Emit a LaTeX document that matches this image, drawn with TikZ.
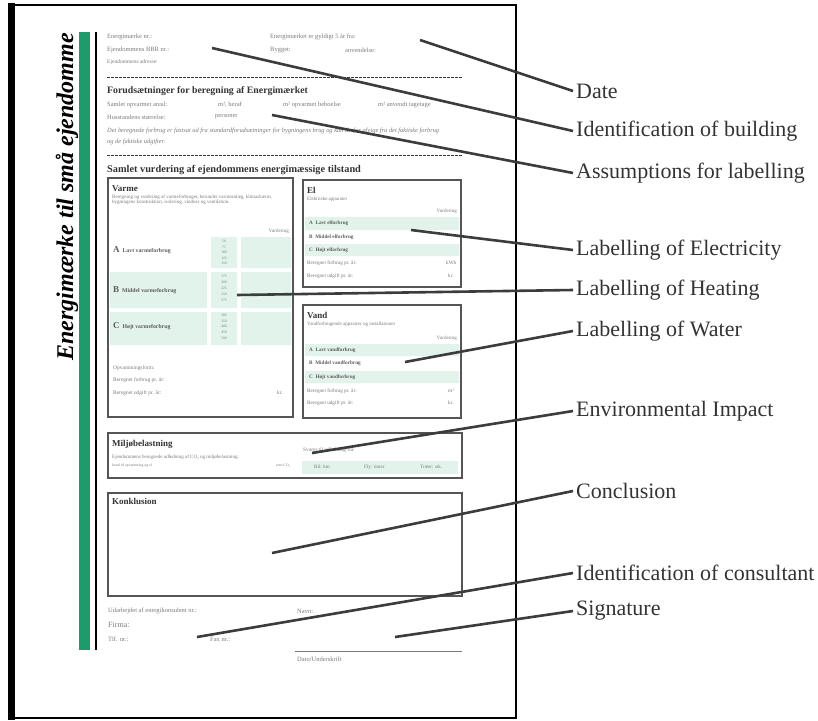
\documentclass[tikz,border=0pt]{standalone}
\usepackage{fontspec}
\setmainfont{Liberation Serif}
\usetikzlibrary{positioning}
\definecolor{emGreen}{HTML}{1E9A6B}
\definecolor{emBand}{HTML}{E2F3EC}
\definecolor{emInk}{HTML}{333333}
\definecolor{emMute}{HTML}{7A7A7A}
\definecolor{emFrame}{HTML}{555555}
\definecolor{emLead}{HTML}{3C3C3C}

\begin{document}
\begin{tikzpicture}[x=1pt, y=-1pt,
  formtxt/.style={anchor=west, inner sep=0pt, font=\fontsize{6.5}{7}\selectfont, text=emMute},
  smalltxt/.style={formtxt, font=\fontsize{5}{5.6}\selectfont},
  rowtxt/.style={formtxt, font=\fontsize{5.8}{6}\selectfont\bfseries, text=emInk!80},
  scaletxt/.style={inner sep=0pt, font=\fontsize{3.6}{4}\selectfont, text=emMute},
  headtxt/.style={anchor=west, inner sep=0pt, font=\fontsize{9}{10}\selectfont\bfseries, text=emInk},
  panel/.style={draw=emFrame, line width=1.1pt},
  band/.style={fill=emBand, draw=none},
  dashrule/.style={draw=emInk, line width=0.9pt, dash pattern=on 3pt off 1pt},
  lead/.style={draw=emLead, line width=2.6pt},
  callout/.style={anchor=west, inner sep=3pt, font=\fontsize{22}{25}\selectfont, text=emInk}
]
  \useasboundingbox (0,0) rectangle (818,720);

  % page and title strip
  \draw[line width=7pt] (11.5,3) -- (11.5,720);
  \draw[line width=2.5pt] (8,5) -- (516,5) -- (516,718) -- (8,718);
  \fill[emGreen] (79,32) rectangle (90,650);
  \draw[line width=1.5pt] (96,32) -- (96,650);
  \node[rotate=90, inner sep=0pt, font=\fontsize{24}{26}\selectfont\bfseries\itshape] (title) at (67,197) {Energimærke til små ejendomme};

  % identification
  \node[formtxt] (nr) at (107,37) {Energimærke nr.:};
  \node[formtxt] (valid) at (270,37) {Energimærket er gyldigt 5 år fra:};
  \node[formtxt] (bbr) at (107,50) {Ejendommens BBR nr.:};
  \node[formtxt] (built) at (270,50) {Bygget:};
  \node[formtxt] (use) at (345,50) {anvendelse:};
  \node[formtxt, font=\fontsize{5.5}{6}\selectfont] (addr) at (107,62) {Ejendommens adresse:};
  \draw[dashrule] (107,77) -- (462,77);

  % assumptions
  \node[headtxt, font=\fontsize{9.8}{11}\selectfont\bfseries] (assume) at (107,91) {Forudsætninger for beregning af Energimærket};
  \node[formtxt] (area) at (107,105) {Samlet opvarmet areal:};
  \node[formtxt] (heraf) at (218,105) {m², heraf};
  \node[formtxt] (bolig) at (283,105) {m² opvarmet beboelse};
  \node[formtxt] (tag) at (378,105) {m² anvendt tagetage};
  \node[formtxt] (house) at (107,117) {Husstandens størrelse:};
  \node[formtxt] (pers) at (215,117) {personer};
  \node[smalltxt, font=\fontsize{6.4}{7}\selectfont\itshape] (note1) at (107,131) {Det beregnede forbrug er fastsat ud fra standardforudsætninger for bygningens brug og kan derfor afvige fra det faktiske forbrug};
  \node[smalltxt, font=\fontsize{6.4}{7}\selectfont\itshape] (note2) at (107,142) {og de faktiske udgifter.};
  \draw[dashrule] (107,155) -- (462,155);
  \node[headtxt, font=\fontsize{10.3}{11}\selectfont\bfseries] (total) at (107,170) {Samlet vurdering af ejendommens energimæssige tilstand};

  % heating
  \draw[panel] (108,178) rectangle (293,417);
  \fill[band] (211,237) rectangle (237,268) (241,237) rectangle (291,268);
  \fill[band] (110,272) rectangle (207,308) (211,272) rectangle (237,308) (241,272) rectangle (291,308);
  \fill[band] (110,312) rectangle (207,345) (211,312) rectangle (237,345) (241,312) rectangle (291,345);
  \node[headtxt] (heat) at (112,189) {Varme};
  \node[smalltxt] (heatA) at (112,197) {Beregning og vurdering af varmeforbruget, herunder varmeanlæg, klimaskærm,};
  \node[smalltxt] (heatB) at (112,202.5) {bygningens konstruktion, isolering, vinduer og ventilation.};
  \node[smalltxt, anchor=east] (heatV) at (289,231) {Vurdering};
  \node[rowtxt] (heatLow) at (113,250) {{\fontsize{9}{9}\selectfont A}\enspace Lavt varmeforbrug};
  \node[rowtxt] (heatMid) at (113,290) {{\fontsize{9}{9}\selectfont B}\enspace Middel varmeforbrug};
  \node[rowtxt] (heatHigh) at (113,326) {{\fontsize{9}{9}\selectfont C}\enspace Højt varmeforbrug};
  \foreach \v [count=\i] in {50,75,100,125,150}
    \node[scaletxt] (scA\i) at (224,236+5.5*\i) {\v};
  \foreach \v [count=\i] in {175,200,225,250,275}
    \node[scaletxt] (scB\i) at (224,270+6*\i) {\v};
  \foreach \v [count=\i] in {300,350,400,450,500}
    \node[scaletxt] (scC\i) at (224,310+5.6*\i) {\v};
  \node[smalltxt, font=\fontsize{5.4}{6}\selectfont] (heatForm) at (113,368) {Opvarmningsform:};
  \node[smalltxt, font=\fontsize{5.4}{6}\selectfont] (heatUse) at (113,380) {Beregnet forbrug pr. år:};
  \node[smalltxt, font=\fontsize{5.4}{6}\selectfont] (heatCost) at (113,393) {Beregnet udgift pr. år:};
  \node[smalltxt, font=\fontsize{5.4}{6}\selectfont] (heatKr) at (277,393) {kr.};

  % electricity
  \draw[panel] (303,180) rectangle (461,287);
  \fill[band] (305,217) rectangle (459,230) (305,244) rectangle (459,256);
  \node[headtxt] (el) at (307,190) {El};
  \node[smalltxt] (elSub) at (307,199) {Elektriske apparater};
  \node[smalltxt, anchor=east] (elV) at (457,211) {Vurdering};
  \node[rowtxt, font=\fontsize{5.2}{6}\selectfont\bfseries] (elLow) at (309,223) {A\enspace Lavt elforbrug};
  \node[rowtxt, font=\fontsize{5.2}{6}\selectfont\bfseries] (elMid) at (309,237) {B\enspace Middel elforbrug};
  \node[rowtxt, font=\fontsize{5.2}{6}\selectfont\bfseries] (elHigh) at (309,250) {C\enspace Højt elforbrug};
  \node[smalltxt, font=\fontsize{5.2}{6}\selectfont] (elUse) at (307,263) {Beregnet forbrug pr. år:};
  \node[smalltxt, font=\fontsize{5.2}{6}\selectfont] (elKwh) at (446,263) {kWh};
  \node[smalltxt, font=\fontsize{5.2}{6}\selectfont] (elCost) at (307,276) {Beregnet udgift pr. år:};
  \node[smalltxt, font=\fontsize{5.2}{6}\selectfont] (elKr) at (448,276) {kr.};

  % water
  \draw[panel] (303,305) rectangle (461,418);
  \fill[band] (305,344) rectangle (459,356) (305,371) rectangle (459,383);
  \node[headtxt] (water) at (307,315) {Vand};
  \node[smalltxt] (waterSub) at (307,324) {Vandforbrugende apparater og installationer};
  \node[smalltxt, anchor=east] (waterV) at (457,338) {Vurdering};
  \node[rowtxt, font=\fontsize{5.2}{6}\selectfont\bfseries] (waterLow) at (309,350) {A\enspace Lavt vandforbrug};
  \node[rowtxt, font=\fontsize{5.2}{6}\selectfont\bfseries] (waterMid) at (309,363) {B\enspace Middel vandforbrug};
  \node[rowtxt, font=\fontsize{5.2}{6}\selectfont\bfseries] (waterHigh) at (309,377) {C\enspace Højt vandforbrug};
  \node[smalltxt, font=\fontsize{5.2}{6}\selectfont] (waterUse) at (307,391) {Beregnet forbrug pr. år:};
  \node[smalltxt, font=\fontsize{5.2}{6}\selectfont] (waterM3) at (448,391) {m³};
  \node[smalltxt, font=\fontsize{5.2}{6}\selectfont] (waterCost) at (307,403) {Beregnet udgift pr. år:};
  \node[smalltxt, font=\fontsize{5.2}{6}\selectfont] (waterKr) at (448,403) {kr.};

  % environment
  \draw[panel] (108,433) rectangle (462,478);
  \fill[band] (302,461) rectangle (458,474);
  \node[headtxt] (env) at (112,444) {Miljøbelastning};
  \node[smalltxt] (envA) at (112,457) {Ejendommens beregnede udledning af CO₂ og miljøbelastning:};
  \node[smalltxt, font=\fontsize{3.8}{4}\selectfont] (envB) at (112,466) {heraf til opvarmning og el};
  \node[smalltxt, font=\fontsize{3.8}{4}\selectfont] (envTon) at (276,466) {tons CO₂};
  \node[smalltxt, font=\fontsize{5.4}{6}\selectfont] (envEq) at (303,450) {Svarer til udledning fra:};
  \node[smalltxt] (envCar) at (314,467) {Bil: km};
  \node[smalltxt] (envFly) at (364,467) {Fly: timer};
  \node[smalltxt] (envTree) at (420,467) {Træer: stk.};

  % conclusion
  \draw[panel] (108,493) rectangle (462,596);
  \node[headtxt] (concl) at (112,501) {Konklusion};

  % consultant and signature
  \node[formtxt] (cons) at (108,611) {Udarbejdet af energikonsulent nr.:};
  \node[formtxt] (name) at (297,611) {Navn:};
  \node[formtxt, font=\fontsize{8}{9}\selectfont] (firm) at (108,625) {Firma:};
  \node[formtxt] (tlf) at (108,639) {Tlf. nr.:};
  \node[formtxt] (fax) at (210,639) {Fax nr.:};
  \draw[emMute, line width=0.8pt] (295,651) -- (462,651);
  \node[formtxt] (sign) at (297,659) {Dato/Underskrift};

  % callouts
  \coordinate (pDate) at (420,40);
  \coordinate (pBldg) at (212,48);
  \coordinate (pAssm) at (272,115);
  \coordinate (pElec) at (411,230);
  \coordinate (pHeat) at (237,295);
  \coordinate (pWatr) at (405,362);
  \coordinate (pEnvr) at (312,453);
  \coordinate (pConc) at (272,553);
  \coordinate (pCons) at (197,637);
  \coordinate (pSign) at (395,637);

  \node[callout] (lblDate) at (573,91) {Date};
  \node[callout] (lblBldg) at (573,131) {Identification of building};
  \node[callout] (lblAssm) at (573,173) {Assumptions for labelling};
  \node[callout] (lblElec) at (573,250) {Labelling of Electricity};
  \node[callout] (lblHeat) at (573,290) {Labelling of Heating};
  \node[callout] (lblWatr) at (573,331) {Labelling of Water};
  \node[callout] (lblEnvr) at (573,411) {Environmental Impact};
  \node[callout] (lblConc) at (573,491) {Conclusion};
  \node[callout] (lblCons) at (573,573) {Identification of consultant};
  \node[callout] (lblSign) at (573,611) {Signature};

  \draw[lead] (pDate) -- (lblDate.west);
  \draw[lead] (pBldg) -- (lblBldg.west);
  \draw[lead] (pAssm) -- (lblAssm.west);
  \draw[lead] (pElec) -- (lblElec.west);
  \draw[lead] (pHeat) -- (lblHeat.west);
  \draw[lead] (pWatr) -- (lblWatr.west);
  \draw[lead] (pEnvr) -- (lblEnvr.west);
  \draw[lead] (pConc) -- (lblConc.west);
  \draw[lead] (pCons) -- (lblCons.west);
  \draw[lead] (pSign) -- (lblSign.west);
\end{tikzpicture}
\end{document}
